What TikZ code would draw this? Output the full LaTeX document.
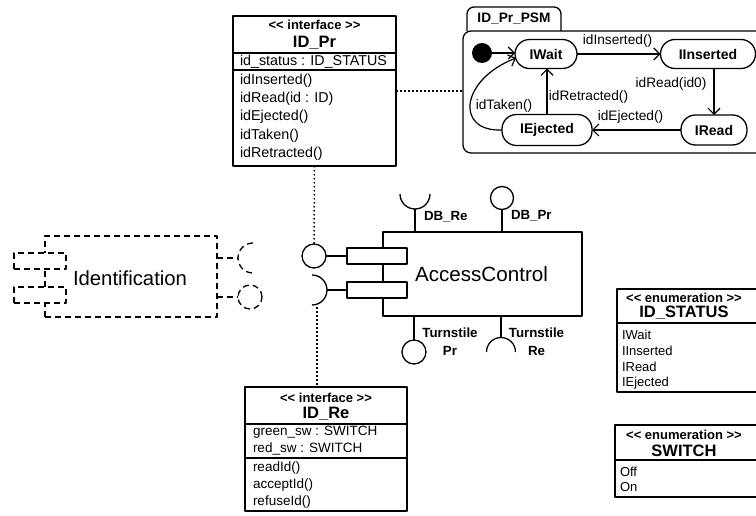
\documentclass[tikz,border=0pt]{standalone}
\usepackage{fontspec}
\setmainfont{Liberation Sans}
\usetikzlibrary{arrows.meta,calc}
\begin{document}
\begin{tikzpicture}[x=1pt,y=-1pt,line join=round,
 every node/.style={inner sep=0pt, outer sep=0pt},
 ln/.style={line width=1.3pt},
 boxd/.style={draw, line width=1.4pt, fill=white, anchor=north west},
 dotl/.style={line width=1.5pt, dash pattern=on 1.5pt off 2.5pt},
 dsh/.style={line width=1.3pt, dash pattern=on 6pt off 4pt},
 stereo/.style={font=\bfseries\fontsize{13}{15}\selectfont},
 cname/.style={font=\bfseries\fontsize{16.5}{18}\selectfont},
 mem/.style={anchor=west, font=\fontsize{14.3}{16}\selectfont},
 memb/.style={anchor=west, font=\fontsize{13.5}{15}\selectfont},
 emem/.style={anchor=west, font=\fontsize{13}{14}\selectfont},
 state/.style={draw, line width=1.3pt, rounded corners=14.5pt, minimum height=29pt, font=\bfseries\fontsize{14}{15}\selectfont},
 tlab/.style={font=\fontsize{13.7}{15}\selectfont},
 arr/.style={line width=1.2pt, -{Straight Barb[length=6pt,width=12pt,line width=1.2pt]}},
 plab/.style={font=\bfseries\fontsize{13.3}{18}\selectfont, align=center},
]
\useasboundingbox (0,0) rectangle (756,516);
\clip (0,0) rectangle (756,516);

% ---------- ID_Pr interface ----------
\node[boxd, minimum width=163pt, minimum height=150pt] (idpr) at (233,16) {};
\draw[ln] (233,53) -- (396,53);
\draw[ln] (233,70) -- (396,70);
\node[stereo] (idprst) at (314.5,25) {<\kern0pt< interface >\kern0pt>};
\node[cname] (idprn) at (314.5,43) {ID\_Pr};
\node[mem] (idpra) at (240,62) {id\_status : ID\_STATUS};
\node[mem] (idprm1) at (240,81) {idInserted()};
\node[mem] (idprm2) at (240,99) {idRead(id : ID)};
\node[mem] (idprm3) at (240,117) {idEjected()};
\node[mem] (idprm4) at (240,136) {idTaken()};
\node[mem] (idprm5) at (240,154) {idRetracted()};

% ---------- state machine ----------
\draw[ln, rounded corners=7pt] (467,31) -- (467,7) -- (561,7) -- (561,31);
\node[font=\bfseries\fontsize{13.7}{15}\selectfont] (tabt) at (514,19) {ID\_Pr\_PSM};
\node[draw, ln, rounded corners=8pt, anchor=north west, minimum width=317pt, minimum height=122pt] (psm) at (463,31) {};

\node[circle, fill=black, minimum size=20pt] (init) at (482,53) {};
\node[state, minimum width=62pt] (wait) at (546,54) {IWait};
\node[state, minimum width=95pt] (ins) at (708,54) {IInserted};
\node[state, minimum width=66pt, minimum height=30pt] (read) at (714,130) {IRead};
\node[state, minimum width=90pt, minimum height=31pt] (ej) at (547,130) {IEjected};

\draw[arr] (init.east) -- (init.east -| wait.west);
\draw[arr] (wait.east) -- (ins.west);
\draw[arr] (ins.south -| read.north) -- (read.north);
\draw[arr] (read.west) -- (ej.east);
\draw[arr] (ej.north) -- (ej.north |- wait.south);
\draw[arr] (ej.west) .. controls (455,132) and (460,80) .. ($(wait.west)+(1,4)$);

\node[tlab] (l1) at (617.5,41) {idInserted()};
\node[tlab] (l2) at (671,84) {idRead(id0)};
\node[tlab] (l3) at (630.5,117) {idEjected()};
\node[tlab] (l4) at (588.5,97) {idRetracted()};
\node[tlab] (l5) at (504,106) {idTaken()};

\draw[dotl] (idpr.east) -- (idpr.east -| psm.west);

% ---------- AccessControl component ----------
\node[boxd, minimum width=199pt, minimum height=84pt] (ac) at (383,232) {};
\node[font=\fontsize{20.6}{23}\selectfont] (act) at (481.5,274) {AccessControl};
\node[boxd, minimum width=60pt, minimum height=16pt] (p1) at (347,248) {};
\node[boxd, minimum width=60pt, minimum height=16pt] (p2) at (347,282) {};

% provided (lollipop) at port 1
\node[circle, draw, line width=1.3pt, minimum size=24pt] (lolli) at (314,256) {};
\draw[ln] (p1.west) -- (lolli.east);
% required (socket) at port 2
\coordinate (sock) at (312,290);
\draw[ln] (p2.west) -- ($(sock)+(15,0)$);
\draw[ln] ($(sock)+(0,-15)$) arc[start angle=90, end angle=-90, radius=15pt];

% DB_Re socket
\coordinate (dbre) at (415,194);
\draw[ln] (ac.north -| dbre) -- ($(dbre)+(0,15)$);
\draw[ln] ($(dbre)+(15,0)$) arc[start angle=0, end angle=-180, radius=15pt];
\node[plab, anchor=west] (dbrel) at (424,217) {DB\_Re};
% DB_Pr lollipop
\node[circle, draw, line width=1.3pt, minimum size=23pt] (dbpr) at (502,198) {};
\draw[ln] (ac.north -| dbpr) -- (dbpr.south);
\node[plab, anchor=west] (dbprl) at (511,216) {DB\_Pr};
% Turnstile Pr lollipop
\node[circle, draw, line width=1.3pt, minimum size=24pt] (tspr) at (414,352) {};
\draw[ln] (ac.south -| tspr) -- (tspr.north);
\node[plab] (tsprl) at (450,342) {Turnstile\\Pr};
% Turnstile Re socket
\coordinate (tsre) at (501,352);
\draw[ln] (ac.south -| tsre) -- ($(tsre)+(0,-14.5)$);
\draw[ln] ($(tsre)+(14.5,0)$) arc[start angle=0, end angle=180, radius=14.5pt];
\node[plab] (tsrel) at (536.5,342) {Turnstile\\Re};

% ---------- Identification (dashed) ----------
\node[boxd, dsh, minimum width=172pt, minimum height=81pt] (idc) at (45,236) {};
\node[boxd, dsh, minimum width=52pt, minimum height=16pt] (ip1) at (14,253) {};
\node[boxd, dsh, minimum width=52pt, minimum height=16pt] (ip2) at (14,287) {};
\node[font=\fontsize{20.3}{23}\selectfont] (idt) at (130,278) {Identification};
\coordinate (isock) at (253,258);
\draw[dsh] (idc.east |- isock) -- ($(isock)+(-15,0)$);
\draw[dsh] ($(isock)+(0,-15)$) arc[start angle=90, end angle=270, radius=15pt];
\node[circle, draw, dsh, minimum size=24pt] (ilol) at (250,297) {};
\draw[dsh] (idc.east |- ilol) -- (ilol.west);

% ---------- ID_Re interface ----------
\node[boxd, minimum width=162pt, minimum height=124pt] (idre) at (245,387) {};
\draw[ln] (245,424) -- (407,424);
\draw[ln] (245,458) -- (407,458);
\node[stereo] (idrest) at (326,398) {<\kern0pt< interface >\kern0pt>};
\node[cname] (idren) at (326,414) {ID\_Re};
\node[memb] (idrea1) at (253,432) {green\_sw : SWITCH};
\node[memb] (idrea2) at (253,449) {red\_sw : SWITCH};
\node[memb] (idrem1) at (253,468) {readId()};
\node[memb] (idrem2) at (253,485) {acceptId()};
\node[memb] (idrem3) at (253,502) {refuseId()};

% dotted dependencies
\draw[dotl] (idpr.south) -- (lolli.north);
\coordinate (sockb) at (317,307);
\draw[dotl] (sockb) -- (sockb |- idre.north);

% ---------- enumerations ----------
\node[boxd, minimum width=153pt, minimum height=103pt] (ids) at (617,289) {};
\draw[ln] (617,323) -- (770,323);
\node[stereo] (idsst) at (684,298) {<\kern0pt< enumeration >\kern0pt>};
\node[cname] (idsn) at (684,313) {ID\_STATUS};
\node[emem] (ids1) at (622,335) {IWait};
\node[emem] (ids2) at (622,351) {IInserted};
\node[emem] (ids3) at (622,367) {IRead};
\node[emem] (ids4) at (622,383) {IEjected};

\node[boxd, minimum width=155pt, minimum height=72pt] (sw) at (615,425) {};
\draw[ln] (615,460) -- (770,460);
\node[stereo] (swst) at (684,435) {<\kern0pt< enumeration >\kern0pt>};
\node[cname] (swn) at (684,451) {SWITCH};
\node[emem] (sw1) at (620,472) {Off};
\node[emem] (sw2) at (620,487) {On};
\end{tikzpicture}
\end{document}
